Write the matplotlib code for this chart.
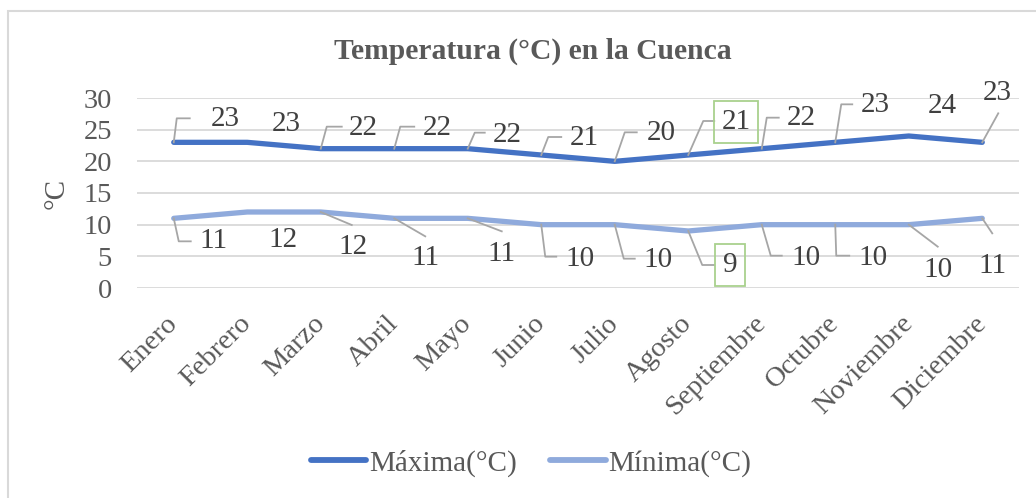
import matplotlib
matplotlib.use("Agg")
import matplotlib.pyplot as plt
from matplotlib.lines import Line2D
from matplotlib.patches import Rectangle

# ---- data ----
months = ["Enero", "Febrero", "Marzo", "Abril", "Mayo", "Junio", "Julio",
          "Agosto", "Septiembre", "Octubre", "Noviembre", "Diciembre"]
maxima = [23, 23, 22, 22, 22, 21, 20, 21, 22, 23, 24, 23]
minima = [11, 12, 12, 11, 11, 10, 10, 9, 10, 10, 10, 11]
series_names = ["Máxima(°C)", "Mínima(°C)"]
title = "Temperatura (°C) en la Cuenca"
ylabel = "°C"
yticks = [0, 5, 10, 15, 20, 25, 30]

# ---- label layout (pixel offsets from each point; image y downward) ----
max_text_off = [(51, -23), (39, -18), (43, -21), (43, -21), (40, -14), (43, -17),
                (46, -28), (48, -33), (40, -31), (40, -37), (34, -30), (15, -49)]
max_leaders = [[(0, 0), (3, -24), (16, -24)], None,
               [(0, 0), (6, -22), (21, -22)], [(0, 0), (6, -22), (20, -22)],
               [(0, 0), (7, -16), (17, -16)], [(0, 0), (7, -18), (20, -18)],
               [(0, 0), (10, -29), (22, -29)], [(0, 0), (15, -34), (26, -34)],
               [(0, 0), (5, -31), (17, -31)], [(0, 0), (6, -38), (17, -38)],
               None, [(0, 0), (16, -29)]]
min_text_off = [(40, 23), (36, 28), (32, 35), (31, 40), (34, 36), (39, 34),
                (43, 35), (42, 34), (44, 33), (38, 33), (29, 45), (10, 48)]
min_leaders = [[(0, 0), (5, 23), (17, 23)], None,
               [(0, 0), (31, 13)], [(0, 0), (31, 18)], [(0, 0), (34, 13)],
               [(0, 0), (4, 32), (15, 32)], [(0, 0), (9, 34), (20, 34)],
               [(0, 0), (14, 34), (26, 34)], [(0, 0), (9, 31), (20, 31)],
               [(0, 0), (1, 31), (14, 31)], [(0, 0), (29, 22)], [(0, 0), (10, 15)]]
boxed_index = 7

W, H = 1036, 498
plt.rcParams['font.family'] = ['Liberation Serif', 'DejaVu Serif']

fig = plt.figure(figsize=(W / 100, H / 100), dpi=100)
ax = fig.add_axes([137 / W, (H - 288) / H, (1019 - 137) / W, 190 / H])

c_max = "#4472C4"
c_min = "#8FAADC"
x = list(range(len(months)))
ax.plot(x, maxima, color=c_max, lw=3.8, solid_capstyle='round', solid_joinstyle='round',
        label=series_names[0], zorder=3)
ax.plot(x, minima, color=c_min, lw=3.8, solid_capstyle='round', solid_joinstyle='round',
        label=series_names[1], zorder=3)

ax.set_xlim(-0.5, len(months) - 0.5)
ax.set_ylim(0, 30)
ax.set_yticks(yticks)
ax.grid(axis='y', color='#d9d9d9', lw=1.3)
ax.set_axisbelow(True)
for s in ax.spines.values():
    s.set_visible(False)
ax.tick_params(axis='both', length=0, labelsize=20.5, labelcolor='#595959')
ax.tick_params(axis='y', pad=18)
ax.set_xticks(x)
ax.set_xticklabels(months, rotation=45, ha='right', va='center', rotation_mode='anchor')
ax.tick_params(axis='x', pad=23)
ax.set_ylabel(ylabel, fontsize=21, color='#595959')
ax.yaxis.set_label_coords((70 - 137) / (1019 - 137), 0.5)

fig.text(533 / W, 1 - 51 / H, title, ha='center', va='center', fontsize=21.3,
         fontweight='bold', color='#595959')

fig.canvas.draw()


def to_px(xv, yv):
    return ax.transData.transform((xv, yv))


def draw_labels(values, text_off, leaders):
    for i, v in enumerate(values):
        px, py = to_px(i, v)
        if leaders[i] is not None:
            xs = [px + dx for dx, dy in leaders[i]]
            ys = [py - dy for dx, dy in leaders[i]]
            fig.add_artist(Line2D(xs, ys, transform=None, color='#a6a6a6', lw=1.3,
                                  zorder=4))
        dx, dy = text_off[i]
        kw = {}
        if i == boxed_index:
            kw['bbox'] = dict(boxstyle='square,pad=0.26', fc='none', ec='#a9d18e', lw=1.3)
        fig.text(px + dx, py - dy, str(v), transform=None, ha='center', va='center',
                 fontsize=21, color='#404040', zorder=5, **kw)


draw_labels(maxima, max_text_off, max_leaders)
draw_labels(minima, min_text_off, min_leaders)

leg = fig.legend(loc='center', bbox_to_anchor=(531 / W, 1 - 463 / H), ncol=2,
                 frameon=False, fontsize=21, handlelength=1.9, handletextpad=0.1,
                 columnspacing=1.15, labelcolor='#595959')
for h in leg.legend_handles:
    h.set_linewidth(4.2)
    h.set_solid_capstyle('round')

fig.add_artist(Rectangle((7.5 / W, -0.1), 2, 1 - 11.5 / H + 0.1, transform=fig.transFigure,
                         fill=False, ec='#d9d9d9', lw=1.5))

fig.savefig("out.png", dpi=100)
